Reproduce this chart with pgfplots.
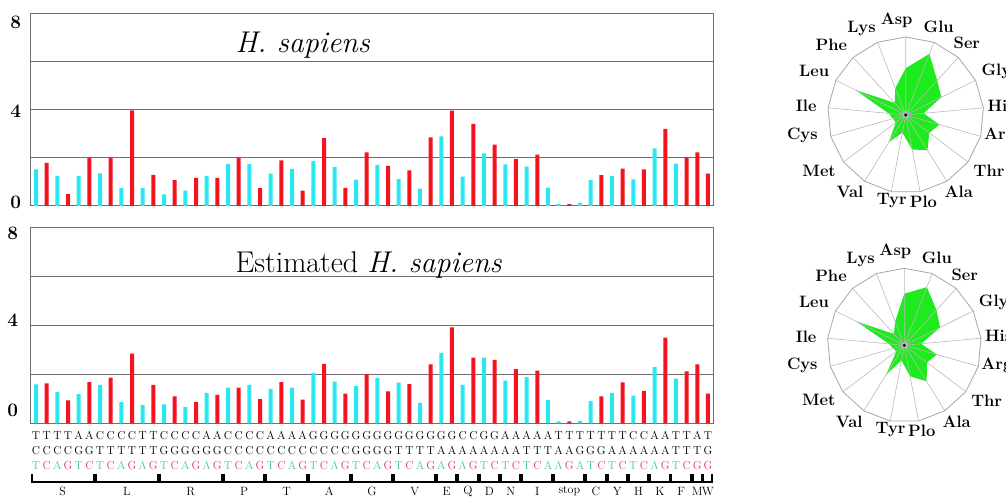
\documentclass[border=0pt]{standalone}
\usepackage{pgfplots}
\pgfplotsset{compat=1.18}
\usepgfplotslibrary{polar}

\definecolor{barC}{RGB}{40,232,240}
\definecolor{barR}{RGB}{245,20,30}
\definecolor{txW}{RGB}{70,195,170}
\definecolor{txS}{RGB}{230,60,100}
\definecolor{gridc}{RGB}{110,110,110}
\definecolor{radarG}{RGB}{30,235,30}

% third codon base: weak (T/A) teal, strong (C/G) pink
\newcommand\tW[1]{\textcolor{txW}{#1}}
\newcommand\tS[1]{\textcolor{txS}{#1}}

\tikzset{grp/.style={font=\fontsize{12}{12}\selectfont},
         rl/.style={font=\fontsize{16.5}{16.5}\selectfont\bfseries}}

\pgfplotsset{codonbars/.style={
  scale only axis, width=682.6pt,
  xmin=0.5, xmax=64.5, ymin=0, ymax=8,
  axis line style={gridc, line width=1pt},
  xtick=\empty,
  minor ytick={2,4,6}, yminorgrids,
  minor grid style={gridc, line width=1pt},
  major tick length=0pt, minor tick length=0pt,
  tick style={draw=none},
  yticklabel style={font=\fontsize{19}{19}\selectfont\bfseries},
  yticklabels={0,4,8},
}}

\newcommand\radarframe{%
  \addplot[gray!55, line width=0.6pt] coordinates {(0,0) (90,1) (0,0) (68.82,1) (0,0) (47.65,1) (0,0) (26.47,1)
    (0,0) (5.29,1) (0,0) (344.12,1) (0,0) (322.94,1) (0,0) (301.76,1) (0,0) (280.59,1) (0,0) (259.41,1)
    (0,0) (238.24,1) (0,0) (217.06,1) (0,0) (195.88,1) (0,0) (174.71,1) (0,0) (153.53,1) (0,0) (132.35,1) (0,0) (111.18,1)};
  \addplot[gray!70, line width=0.8pt] coordinates {(90,1) (68.82,1) (47.65,1) (26.47,1) (5.29,1) (344.12,1)
    (322.94,1) (301.76,1) (280.59,1) (259.41,1) (238.24,1) (217.06,1) (195.88,1) (174.71,1) (153.53,1)
    (132.35,1) (111.18,1) (90,1)};
}
\newcommand\radarlabels{%
  \node[rl] at (axis cs:95.5,1.22) {Asp};
  \node[rl] at (axis cs:69.5,1.21) {Glu};
  \node[rl] at (axis cs:49.6,1.21) {Ser};
  \node[rl] at (axis cs:25.8,1.29) {Gly};
  \node[rl] at (axis cs:5.5,1.23) {His};
  \node[rl] at (axis cs:-12.2,1.23) {Arg};
  \node[rl] at (axis cs:-34,1.29) {Thr};
  \node[rl] at (axis cs:-55.5,1.2) {Ala};
  \node[rl] at (axis cs:-78.5,1.14) {Plo};
  \node[rl] at (axis cs:-99.3,1.11) {Tyr};
  \node[rl] at (axis cs:-125.9,1.22) {Val};
  \node[rl] at (axis cs:-147.3,1.32) {Met};
  \node[rl] at (axis cs:-169,1.35) {Cys};
  \node[rl] at (axis cs:175,1.28) {Ile};
  \node[rl] at (axis cs:154.5,1.3) {Leu};
  \node[rl] at (axis cs:136.6,1.31) {Phe};
  \node[rl] at (axis cs:117,1.25) {Lys};
}

\begin{document}
\begin{tikzpicture}
\path[use as bounding box] (0,0) rectangle (1006pt,497pt);

% ---------- top: H. sapiens ----------
\begin{axis}[codonbars, at={(30.7pt,291pt)}, anchor=south west, height=192pt,
  ytick={0.17,3.96,7.63}, yticklabel style={xshift=-6pt}]
\addplot[ybar, bar width=4pt, bar shift=0pt, fill=barC, draw=none] coordinates {
  (1,1.53) (3,1.25) (5,1.25) (7,1.36) (9,0.75) (11,0.76) (13,0.48) (15,0.64) (17,1.26) (19,1.75) (21,1.75)
  (23,1.35) (25,1.55) (27,1.87) (29,1.62) (31,1.1) (33,1.71) (35,1.12) (37,0.72) (39,2.9) (41,1.22) (43,2.19)
  (45,1.73) (47,1.64) (49,0.77) (50,0.08) (52,0.13) (53,1.08) (55,1.25) (57,1.11) (59,2.4) (61,1.77)};
\addplot[ybar, bar width=4pt, bar shift=0pt, fill=barR, draw=none] coordinates {
  (2,1.8) (4,0.49) (6,2.0) (8,2.0) (10,3.98) (12,1.3) (14,1.08) (16,1.17) (18,1.17) (20,2.0) (22,0.74)
  (24,1.9) (26,0.64) (28,2.83) (30,0.75) (32,2.23) (34,1.67) (36,1.48) (38,2.86) (40,3.97) (42,3.42) (44,2.56)
  (46,1.95) (48,2.14) (51,0.08) (54,1.29) (56,1.56) (58,1.53) (60,3.21) (62,2.03) (63,2.23) (64,1.35)};
\end{axis}
\node[anchor=base west, font=\fontsize{30}{30}\selectfont] at (232pt,444pt) {\textit{H. sapiens}};

% ---------- bottom: Estimated H. sapiens ----------
\begin{axis}[codonbars, at={(30.7pt,73.7pt)}, anchor=south west, height=196pt, clip=false,
  ytick={0.53,4.2,7.76}, yticklabel style={xshift=-9pt},
  xtick={1,...,64},
  xticklabel style={font=\fontsize{11.5}{15}\selectfont, align=center, anchor=north, yshift=-4.5pt},
  xticklabels={
   {T\\C\\\tW T},{T\\C\\\tS C},{T\\C\\\tW A},{T\\C\\\tS G},{A\\G\\\tW T},{A\\G\\\tS C},
   {C\\T\\\tW T},{C\\T\\\tS C},{C\\T\\\tW A},{C\\T\\\tS G},{T\\T\\\tW A},{T\\T\\\tS G},
   {C\\G\\\tW T},{C\\G\\\tS C},{C\\G\\\tW A},{C\\G\\\tS G},{A\\G\\\tW A},{A\\G\\\tS G},
   {C\\C\\\tW T},{C\\C\\\tS C},{C\\C\\\tW A},{C\\C\\\tS G},
   {A\\C\\\tW T},{A\\C\\\tS C},{A\\C\\\tW A},{A\\C\\\tS G},
   {G\\C\\\tW T},{G\\C\\\tS C},{G\\C\\\tW A},{G\\C\\\tS G},
   {G\\G\\\tW T},{G\\G\\\tS C},{G\\G\\\tW A},{G\\G\\\tS G},
   {G\\T\\\tW T},{G\\T\\\tS C},{G\\T\\\tW A},{G\\T\\\tS G},
   {G\\A\\\tW A},{G\\A\\\tS G},{C\\A\\\tW A},{C\\A\\\tS G},
   {G\\A\\\tW T},{G\\A\\\tS C},{A\\A\\\tW T},{A\\A\\\tS C},
   {A\\T\\\tW T},{A\\T\\\tS C},{A\\T\\\tW A},
   {T\\A\\\tW A},{T\\A\\\tS G},{T\\G\\\tW A},
   {T\\G\\\tW T},{T\\G\\\tS C},{T\\A\\\tW T},{T\\A\\\tS C},
   {C\\A\\\tW T},{C\\A\\\tS C},{A\\A\\\tW A},{A\\A\\\tS G},
   {T\\T\\\tW T},{T\\T\\\tS C},{A\\T\\\tS G},{T\\G\\\tS G}}]
\addplot[ybar, bar width=4pt, bar shift=0pt, fill=barC, draw=none] coordinates {
  (1,1.59) (3,1.27) (5,1.19) (7,1.57) (9,0.86) (11,0.74) (13,0.77) (15,0.66) (17,1.24) (19,1.46) (21,1.57)
  (23,1.41) (25,1.46) (27,2.07) (29,1.70) (31,1.52) (33,1.85) (35,1.66) (37,0.83) (39,2.87) (41,1.57) (43,2.68)
  (45,1.74) (47,1.88) (49,0.95) (50,0.08) (52,0.1) (53,0.9) (55,1.24) (57,1.13) (59,2.29) (61,1.82)};
\addplot[ybar, bar width=4pt, bar shift=0pt, fill=barR, draw=none] coordinates {
  (2,1.63) (4,0.94) (6,1.68) (8,1.86) (10,2.84) (12,1.57) (14,1.10) (16,0.86) (18,1.16) (20,1.46) (22,0.99)
  (24,1.68) (26,0.97) (28,2.43) (30,1.21) (32,2.01) (34,1.30) (36,1.60) (38,2.41) (40,3.92) (42,2.68) (44,2.59)
  (46,2.21) (48,2.15) (51,0.08) (54,1.10) (56,1.67) (58,1.32) (60,3.50) (62,2.12) (63,2.40) (64,1.21)};
% amino-acid brackets
\foreach \a/\b/\l in {1/6/S,7/12/L,13/18/R,19/22/P,23/26/T,27/30/A,31/34/G,35/38/V,39/40/E,41/42/Q,
    43/44/D,45/46/N,47/49/I,50/52/stop,53/54/C,55/56/Y,57/58/H,59/60/K,61/62/F,63/63/M,64/64/W}{
  \pgfmathsetmacro\xa{\a-0.42}
  \pgfmathsetmacro\xb{\b+0.42}
  \pgfmathsetmacro\xc{(\a+\b)/2}
  \edef\tmp{\noexpand\draw[line width=2pt, line join=miter] (axis cs:\xa,-2.08) -- (axis cs:\xa,-2.396)
    -- (axis cs:\xb,-2.396) -- (axis cs:\xb,-2.08);
    \noexpand\node[grp] at (axis cs:\xc,-2.78) {\l};}
  \tmp
}
\end{axis}
\node[anchor=base west, font=\fontsize{30}{30}\selectfont] at (232pt,224pt) {Estimated \textit{H. sapiens}};

% ---------- radar charts ----------
\begin{polaraxis}[scale only axis, width=156pt, height=156pt, at={(905.7pt,382pt)}, anchor=center,
  ymin=0, ymax=1, hide axis, clip=false]
\addplot[fill=radarG, draw=none] coordinates {(90,0.60) (68.82,0.84) (47.65,0.60) (26.47,0.51) (5.29,0.23)
  (344.12,0.45) (322.94,0.38) (301.76,0.53) (280.59,0.45) (259.41,0.23) (238.24,0.41) (217.06,0.16)
  (195.88,0.17) (174.71,0.22) (153.53,0.72) (132.35,0.21) (111.18,0.37) (90,0.60)};
\radarframe
\addplot[only marks, mark=*, mark size=1.3pt, black] coordinates {(0,0)};
\radarlabels
\end{polaraxis}

\begin{polaraxis}[scale only axis, width=154pt, height=154pt, at={(904.3pt,151.7pt)}, anchor=center,
  ymin=0, ymax=1, hide axis, clip=false]
\addplot[fill=radarG, draw=none] coordinates {(90,0.67) (68.82,0.81) (47.65,0.62) (26.47,0.52) (5.29,0.22)
  (344.12,0.44) (322.94,0.37) (301.76,0.55) (280.59,0.41) (259.41,0.2) (238.24,0.45) (217.06,0.13)
  (195.88,0.15) (174.71,0.2) (153.53,0.70) (132.35,0.2) (111.18,0.33) (90,0.67)};
\radarframe
\addplot[only marks, mark=*, mark size=1.3pt, black] coordinates {(0,0)};
\radarlabels
\end{polaraxis}
\end{tikzpicture}
\end{document}
